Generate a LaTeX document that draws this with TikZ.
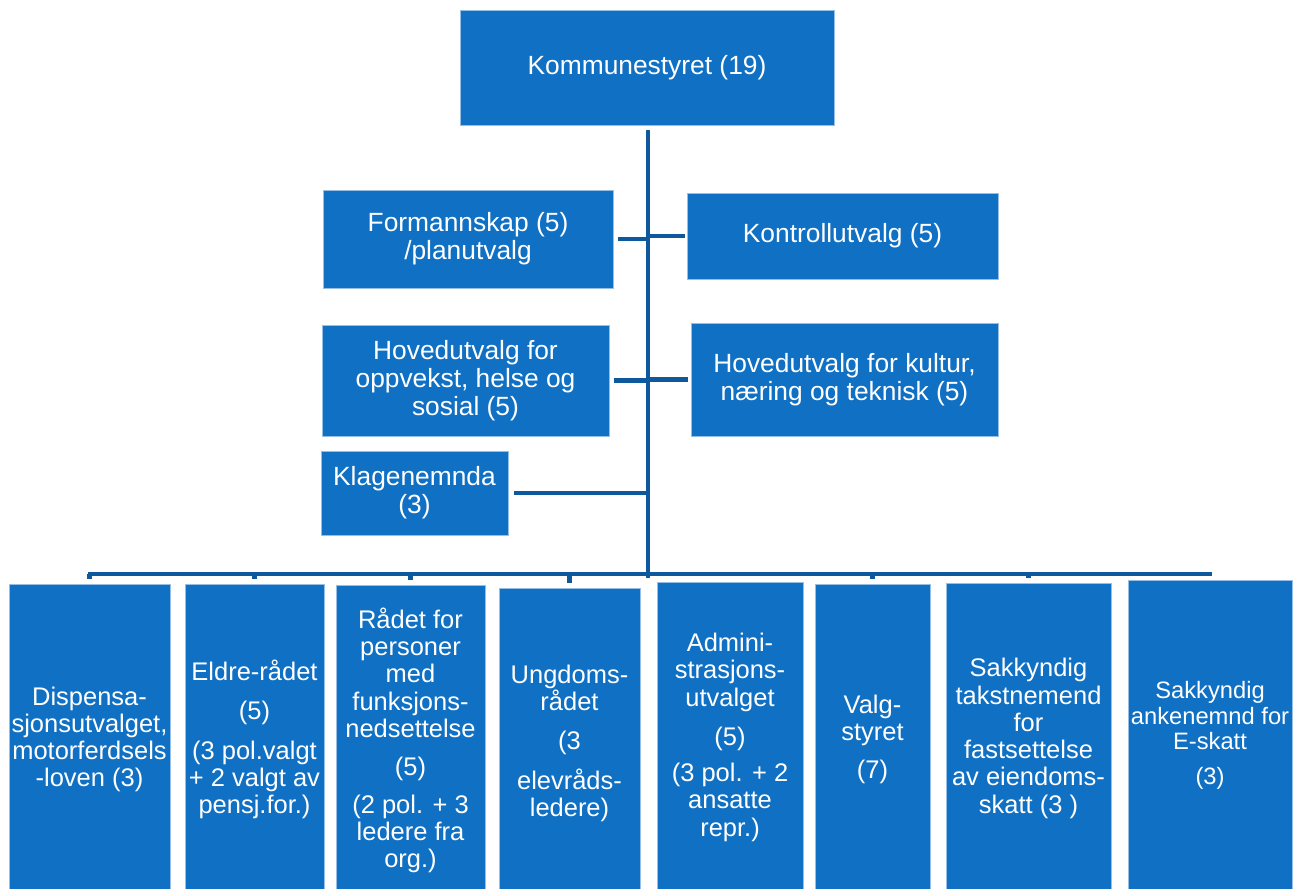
\documentclass[tikz,border=0pt]{standalone}
\usepackage{fontspec}
\setmainfont{Liberation Sans}
\usepackage{xcolor}
\usepackage{tikz}
\usetikzlibrary{calc}
\definecolor{boxblue}{RGB}{16,112,196}
\definecolor{boxedge}{RGB}{150,190,230}
\definecolor{linkblue}{RGB}{14,88,158}
\tikzset{
	orgbox/.style={draw=boxedge,line width=0.4pt,fill=boxblue,text=white,align=center,inner sep=0pt},
	toptext/.style={font=\fontsize{15}{16}\selectfont},
	lowtext/.style={font=\fontsize{14.5}{15.5}\selectfont},
	link/.style={draw=linkblue,line width=0.9mm}
}

\begin{document}
\begin{tikzpicture}[x=0.2mm,y=-0.2mm]
	\useasboundingbox (0,0) rectangle (1301,888);
	% top level
	\node[orgbox,toptext,minimum width=74.8mm,minimum height=23mm] (komm) at (647,67.5) {Kommunestyret (19)};
	\node[orgbox,toptext,minimum width=58mm,minimum height=19.6mm] (form) at (468,239) {Formannskap (5)\\/planutvalg};
	\node[orgbox,toptext,minimum width=62.2mm,minimum height=17.2mm] (kontr) at (842.5,236) {Kontrollutvalg (5)};
	\node[orgbox,toptext,minimum width=57.4mm,minimum height=22.2mm] (oppv) at (465.5,380.5) {Hovedutvalg for\\oppvekst, helse og\\sosial (5)};
	\node[orgbox,toptext,minimum width=61.4mm,minimum height=22.6mm] (kult) at (844.5,379.5) {Hovedutvalg for kultur,\\næring og teknisk (5)};
	\node[orgbox,toptext,minimum width=37.4mm,minimum height=16.8mm] (klage) at (414.5,493) {Klagenemnda\\(3)};
	% lower row
	\node[orgbox,lowtext,anchor=north,minimum width=32.2mm,minimum height=62mm] (disp) at (89.5,584) {Dispensa-\\sjonsutvalget,\\motorferdsels\\-loven (3)};
	\node[orgbox,lowtext,anchor=north,minimum width=27.8mm,minimum height=62mm] (eldre) at (254.5,584) {Eldre-rådet\\[7pt](5)\\[7pt](3 pol.valgt\\+ 2 valgt av\\pensj.for.)};
	\node[orgbox,lowtext,anchor=north,minimum width=29.8mm,minimum height=62mm] (raad) at (410.5,585) {Rådet for\\personer\\med\\funksjons-\\nedsettelse\\[6pt](5)\\[6pt](2 pol. + 3\\ledere fra\\org.)};
	\node[orgbox,lowtext,anchor=north,minimum width=28.2mm,minimum height=62mm] (ungd) at (569.5,588) {Ungdoms-\\rådet\\[7pt](3\\[7pt]elevråds-\\ledere)};
	\node[orgbox,lowtext,anchor=north,minimum width=29.2mm,minimum height=62mm] (admin) at (730,582) {Admini-\\strasjons-\\utvalget\\[7pt](5)\\[5pt](3 pol. + 2\\ansatte\\repr.)};
	\node[orgbox,lowtext,anchor=north,minimum width=23mm,minimum height=62mm] (valg) at (872.5,584) {Valg-\\styret\\[6pt](7)};
	\node[orgbox,lowtext,anchor=north,minimum width=33mm,minimum height=62mm] (takst) at (1028.5,583) {Sakkyndig\\takstnemend\\for\\fastsettelse\\av eiendoms-\\skatt (3 )};
	\node[orgbox,font=\fontsize{13.5}{14.5}\selectfont,anchor=north,minimum width=32.8mm,minimum height=62mm] (anke) at (1210,580) {Sakkyndig\\ankenemnd for\\E-skatt\\[5pt](3)};
	% connectors
	\coordinate (trunk top) at (648,130);
	\coordinate (trunk foot) at (648,578);
	\coordinate (bus w) at (88,574);
	\coordinate (bus e) at (1212,574);
	\draw[link] (trunk top) -- (trunk foot);
	\draw[link] ([xshift=1mm]form.east) -- (form.east -| trunk top);
	\draw[link] (kontr.west -| trunk top) -- ([xshift=-0.4mm]kontr.west);
	\draw[link] ([xshift=1mm]oppv.east) -- (oppv.east -| trunk top);
	\draw[link] (kult.west -| trunk top) -- ([xshift=-0.6mm]kult.west);
	\draw[link] ([xshift=1.2mm]klage.east) -- (klage.east -| trunk top);
	\draw[link] (bus w) -- (bus e);
	\foreach \n in {disp,eldre,raad,ungd,valg,takst,anke}
		\draw[link] (\n.north |- bus w) -- ([yshift=1mm]\n.north);
\end{tikzpicture}
\end{document}
